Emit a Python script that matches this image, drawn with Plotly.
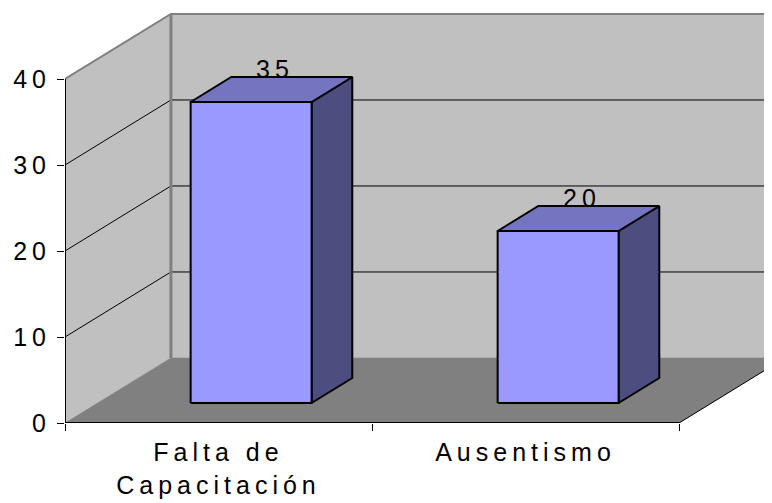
import plotly.graph_objects as go

# ---- data ----
categories = ["Falta de<br>Capacitación", "Ausentismo"]
values = [35, 20]
y_ticks = [0, 10, 20, 30, 40]
y_max = 40

# ---- oblique 3D projection constants (style) ----
DX = 0.345      # depth offset in category units
DY = 7.56       # depth offset in value units
HALF = 0.197    # half bar width (category units)
D0, D1 = 0.308, 0.692   # bar front/back depth fraction

WALL = "#C0C0C0"
FLOOR = "#808080"
FRONT = "#9999FF"
TOP = "#7474C0"
SIDE = "#4D4D80"
FONT = dict(family="Liberation Sans, Arial, sans-serif", size=25, color="black")

n = len(categories)
xl, xr = -0.5, n - 0.5


def P(c, v, d):
    return c + d * DX, v + d * DY


def poly(pts):
    xs, ys = [], []
    for c, v, d in pts + [pts[0]]:
        x, y = P(c, v, d)
        xs.append(x)
        ys.append(y)
    return xs, ys


def line(pts):
    xs, ys = [], []
    for p in pts:
        if p is None:
            xs.append(None)
            ys.append(None)
        else:
            x, y = P(*p)
            xs.append(x)
            ys.append(y)
    return xs, ys


fig = go.Figure()


def add_fill(pts, color, lw=0, lc="black"):
    xs, ys = poly(pts)
    fig.add_trace(go.Scatter(x=xs, y=ys, mode="lines", fill="toself", fillcolor=color,
                             line=dict(color=lc if lw else color, width=lw if lw else 0.5),
                             hoverinfo="skip", showlegend=False))


def add_line(pts, color, width):
    xs, ys = line(pts)
    fig.add_trace(go.Scatter(x=xs, y=ys, mode="lines", line=dict(color=color, width=width),
                             hoverinfo="skip", showlegend=False))


# walls and floor
add_fill([(xl, 0, 1), (xr, 0, 1), (xr, y_max, 1), (xl, y_max, 1)], WALL)
add_fill([(xl, 0, 0), (xl, 0, 1), (xl, y_max, 1), (xl, y_max, 0)], WALL)
add_fill([(xl, 0, 0), (xr, 0, 0), (xr, 0, 1), (xl, 0, 1)], FLOOR)

# gridlines
grid = []
for t in y_ticks[1:-1]:
    grid += [(xl, t, 0), (xl, t, 1), (xr, t, 1), None]
add_line(grid, "black", 1)
add_line([(xl, y_max, 0), (xl, y_max, 1), (xr, y_max, 1)], FLOOR, 2)
add_line([(xl, 0, 1), (xl, y_max, 1)], FLOOR, 3)

# axis edges
add_line([(xl, 0, 0), (xl, y_max, 0)], "black", 2)
add_line([(xl, 0, 0), (xr, 0, 0)], "black", 2)
add_line([(xr, 0, 0), (xr, 0, 1)], "black", 1)

# bars
for i, v in enumerate(values):
    add_fill([(i + HALF, 0, D0), (i + HALF, 0, D1), (i + HALF, v, D1), (i + HALF, v, D0)], SIDE, 2)
    add_fill([(i - HALF, v, D0), (i + HALF, v, D0), (i + HALF, v, D1), (i - HALF, v, D1)], TOP, 2)
    add_fill([(i - HALF, 0, D0), (i + HALF, 0, D0), (i + HALF, v, D0), (i - HALF, v, D0)], FRONT, 2)
    lx, ly = P(i, v, D1)
    fig.add_annotation(x=lx - (D1 - 0.5) * DX, y=ly, text=str(v), showarrow=False,
                       xanchor="center", yanchor="middle", xshift=4, yshift=8, font=FONT)

# the page adds an 8px body margin, so the figure is 8px smaller
W, H = 764, 495
ml, mr, mt, mb = 57, 0, 0, 80
px_per_val = 8.6
px_per_cat = 307.0
plot_w = W - ml - mr
plot_h = H - mt - mb

fig.update_layout(
    width=W, height=H,
    margin=dict(l=ml, r=mr, t=mt, b=mb, autoexpand=False),
    paper_bgcolor="white", plot_bgcolor="white",
    font=FONT,
    showlegend=False,
    xaxis=dict(range=[xl, xl + plot_w / px_per_cat], automargin=False,
               tickmode="array", tickvals=list(range(n)), ticktext=categories,
               ticks="", showgrid=False, zeroline=False, showline=False,
               ticklabelstandoff=12,
               minor=dict(tickmode="array", tickvals=[xl + k for k in range(n + 1)],
                          ticks="outside", ticklen=7, tickcolor="black", tickwidth=1,
                          showgrid=False),
               tickfont=FONT, fixedrange=True),
    yaxis=dict(range=[0, plot_h / px_per_val], automargin=False,
               tickmode="array", tickvals=y_ticks,
               ticks="outside", ticklen=7, tickcolor="black", tickwidth=1,
               showgrid=False, zeroline=False, showline=False,
               ticklabelstandoff=1,
               tickfont=FONT, fixedrange=True),
)

# wide letter spacing as in the original chart's text
spacing_js = ("document.querySelectorAll('.xtick text, .ytick text, .annotation-text')"
              ".forEach(function(e){e.style.letterSpacing='5px';});")

fig.write_html("out.html", post_script=spacing_js)
